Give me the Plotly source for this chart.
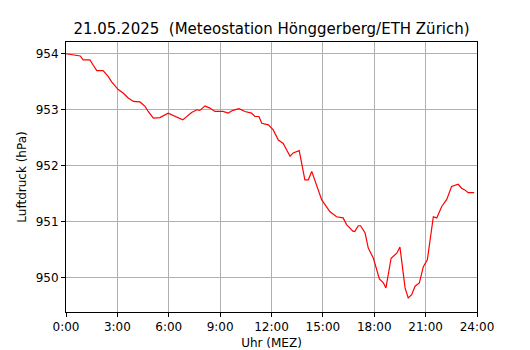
import plotly.graph_objects as go

times = ["0:00","0:50","1:00","1:24","1:36","1:48","2:10","2:27","2:40","3:03","3:20","3:38","3:56","4:19","4:37","4:48",
         "5:06","5:29","5:58","6:22","6:49","7:20","7:38","7:49","8:07","8:24","8:42","9:10","9:28","9:45","10:06",
         "10:27","10:50","11:02","11:16","11:26","11:49","12:06","12:24","12:41","12:53","13:05","13:16","13:37",
         "13:57","14:09","14:21","14:56","15:25","15:48","16:11","16:23","16:46","16:52","17:04","17:12","17:28",
         "17:39","17:57","18:18","18:32","18:41","18:59","19:19","19:30","19:48","19:59","20:11","20:23","20:38",
         "20:52","21:06","21:27","21:39","21:56","22:14","22:31","22:54","23:06","23:17","23:29","23:50"]
pressure = [954.00,953.96,953.89,953.89,953.79,953.70,953.70,953.60,953.50,953.36,953.30,953.21,953.15,953.14,953.06,952.97,
            952.85,952.86,952.94,952.89,952.82,952.95,953.00,952.99,953.07,953.03,952.97,952.97,952.94,952.99,953.02,
            952.97,952.94,952.88,952.88,952.76,952.73,952.64,952.46,952.40,952.29,952.17,952.23,952.27,
            951.75,951.75,951.90,951.39,951.18,951.09,951.07,950.95,950.83,950.83,950.93,950.93,950.80,
            950.53,950.35,949.98,949.91,949.82,950.35,950.44,950.55,949.82,949.64,949.70,949.85,949.91,
            950.20,950.32,951.09,951.07,951.27,951.40,951.63,951.67,951.60,951.57,951.52,951.52]
tick_hours = [0, 3, 6, 9, 12, 15, 18, 21, 24]
tick_labels = ["0:00","3:00","6:00","9:00","12:00","15:00","18:00","21:00","24:00"]
y_ticks = [950, 951, 952, 953, 954]

def to_h(s):
    h, m = s.split(":")
    return int(h) + int(m) / 60

x = [to_h(t) for t in times]

fig = go.Figure(go.Scatter(x=x, y=pressure, mode="lines",
                           line=dict(color="#ff0000", width=1.2), hoverinfo="skip"))

font = "DejaVu Sans"
axis_common = dict(showline=True, linecolor="black", linewidth=1, mirror=True,
                   ticks="outside", ticklen=4, tickcolor="black", tickwidth=1,
                   showgrid=True, gridcolor="#b0b0b0", gridwidth=1, zeroline=False,
                   automargin=False,
                   tickfont=dict(family=font, size=12, color="black"))
fig.update_xaxes(range=[0, 24], tickvals=tick_hours, ticktext=tick_labels,
                 title=dict(text="Uhr (MEZ)", font=dict(family=font, size=12, color="black"), standoff=5),
                 **axis_common)
fig.update_yaxes(range=[949.39, 954.21], tickvals=y_ticks, ticktext=[str(v) for v in y_ticks],
                 title=dict(text="Luftdruck (hPa)", font=dict(family=font, size=12, color="black"), standoff=6),
                 **axis_common)
fig.update_layout(
    width=530, height=350, autosize=False,
    margin=dict(l=66, r=53, t=42, b=38, autoexpand=False),
    paper_bgcolor="white", plot_bgcolor="white",
    showlegend=False,
    title=dict(text="21.05.2025  (Meteostation Hönggerberg/ETH Zürich)",
               font=dict(family=font, size=15, color="black"),
               x=(66 + 477) / 2 / 530, xanchor="center",
               yref="container", y=1 - 29 / 350, yanchor="middle", automargin=False),
)
fig.write_html("out.html", config={"displayModeBar": False, "staticPlot": True},
               post_script="document.body.style.margin='0';document.body.style.padding='0';")
